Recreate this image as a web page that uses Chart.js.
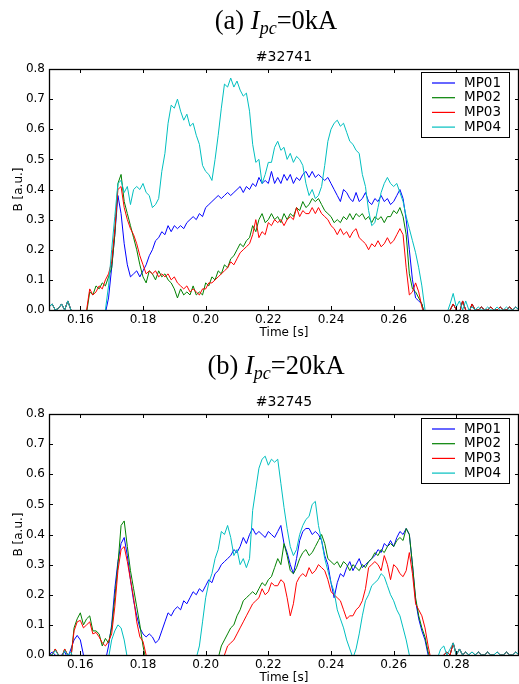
<!DOCTYPE html>
<html>
<head>
<meta charset="utf-8">
<script src="https://cdn.jsdelivr.net/npm/chart.js@4.4.0/dist/chart.umd.min.js"></script>
<style>
  body { margin: 0; width: 519px; height: 684px; overflow: hidden; background: #fff; position: relative; }
  canvas { position: absolute; left: 0; }
  .cap { position: absolute; left: 0; width: 552px; text-align: center; color: #000;
         font-family: "Liberation Serif", "DejaVu Serif", serif; font-size: 26.5px; line-height: 26px; }
  .cap sub { font-size: 18px; line-height: 0; vertical-align: -5px; }
</style>
</head>
<body>
<canvas id="chartA" width="519" height="345" style="top:0"></canvas>
<canvas id="chartB" width="519" height="345" style="top:345px"></canvas>
<div class="cap" style="top:7px">(a) <i>I<sub>pc</sub></i>=0kA</div>
<div class="cap" style="top:352px">(b) <i>I<sub>pc</sub></i>=20kA</div>
<script>
// sampling of the probe signals
const t0 = 0.150;
const dt = 0.001;

const xTickValues = [0.16, 0.18, 0.20, 0.22, 0.24, 0.26, 0.28];
const yTickValues = [0.0, 0.1, 0.2, 0.3, 0.4, 0.5, 0.6, 0.7, 0.8];

const probeNames = ['MP01', 'MP02', 'MP03', 'MP04'];
const probeColors = ['#0000ff', '#008000', '#ff0000', '#00bfbf'];

// shot #32741, Ipc = 0 kA
const s32741_mp01 = [
  0.01, 0.02, 0.00, 0.005, 0.02, 0.00, 0.03, 0.00, -0.02, -0.02,
  -0.02, -0.02, -0.02, -0.02, -0.02, -0.02, -0.02, -0.02, -0.01, 0.04,
  0.14, 0.25, 0.38, 0.32, 0.22, 0.15, 0.11, 0.12, 0.13, 0.11,
  0.13, 0.15, 0.18, 0.20, 0.23, 0.24, 0.26, 0.25, 0.28, 0.26,
  0.28, 0.27, 0.28, 0.27, 0.29, 0.30, 0.31, 0.30, 0.32, 0.31,
  0.34, 0.35, 0.36, 0.37, 0.38, 0.37, 0.38, 0.39, 0.38, 0.39,
  0.40, 0.41, 0.39, 0.41, 0.40, 0.42, 0.41, 0.44, 0.42, 0.43,
  0.42, 0.46, 0.42, 0.44, 0.42, 0.45, 0.43, 0.45, 0.42, 0.44,
  0.43, 0.45, 0.46, 0.44, 0.46, 0.44, 0.45, 0.44, 0.43, 0.44,
  0.42, 0.40, 0.38, 0.36, 0.40, 0.39, 0.37, 0.36, 0.39, 0.36,
  0.37, 0.39, 0.36, 0.35, 0.37, 0.36, 0.38, 0.36, 0.37, 0.35,
  0.36, 0.38, 0.40, 0.37, 0.30, 0.20, 0.10, 0.04, 0.03, 0.02,
  -0.02, -0.03, -0.03, -0.02, -0.02, -0.02, -0.02, -0.01, 0.00, 0.02,
  0.00, -0.01, 0.03, 0.00, -0.01, 0.02, 0.00, 0.00, 0.01, 0.00,
  0.00, 0.01, 0.00, 0.00, 0.01, 0.00, 0.00, 0.01, 0.00, 0.01,
  0.00
];
const s32741_mp02 = [
  0.01, 0.02, 0.00, 0.005, 0.02, 0.00, 0.03, 0.00, -0.02, -0.02,
  -0.02, -0.02, -0.01, 0.06, 0.05, 0.08, 0.07, 0.09, 0.08, 0.11,
  0.14, 0.25, 0.42, 0.45, 0.36, 0.32, 0.28, 0.24, 0.20, 0.15,
  0.11, 0.09, 0.13, 0.12, 0.10, 0.13, 0.11, 0.12, 0.10, 0.09,
  0.07, 0.04, 0.07, 0.05, 0.06, 0.05, 0.08, 0.05, 0.06, 0.05,
  0.09, 0.08, 0.11, 0.10, 0.13, 0.12, 0.15, 0.14, 0.17, 0.18,
  0.20, 0.22, 0.21, 0.23, 0.24, 0.28, 0.26, 0.30, 0.32, 0.29,
  0.30, 0.32, 0.30, 0.31, 0.29, 0.32, 0.30, 0.32, 0.31, 0.34,
  0.33, 0.36, 0.34, 0.35, 0.37, 0.36, 0.37, 0.35, 0.33, 0.32,
  0.31, 0.29, 0.30, 0.29, 0.31, 0.30, 0.32, 0.30, 0.32, 0.31,
  0.32, 0.30, 0.31, 0.29, 0.31, 0.30, 0.31, 0.29, 0.31, 0.31,
  0.33, 0.32, 0.34, 0.31, 0.25, 0.12, 0.07, 0.06, 0.04, 0.02,
  -0.02, -0.03, -0.03, -0.02, -0.02, -0.02, -0.02, -0.01, 0.00, 0.02,
  0.00, -0.01, 0.03, 0.00, -0.01, 0.02, 0.00, 0.00, 0.01, 0.00,
  0.00, 0.01, 0.00, 0.00, 0.01, 0.00, 0.00, 0.01, 0.00, 0.01,
  0.00
];
const s32741_mp03 = [
  0.01, 0.02, 0.00, 0.005, 0.02, 0.00, 0.03, 0.00, -0.02, -0.02,
  -0.02, -0.02, 0.00, 0.07, 0.05, 0.06, 0.08, 0.07, 0.10, 0.12,
  0.16, 0.27, 0.40, 0.41, 0.34, 0.30, 0.27, 0.25, 0.22, 0.18,
  0.15, 0.12, 0.13, 0.12, 0.13, 0.11, 0.12, 0.11, 0.12, 0.10,
  0.11, 0.09, 0.08, 0.07, 0.08, 0.06, 0.07, 0.06, 0.05, 0.07,
  0.07, 0.09, 0.09, 0.10, 0.11, 0.12, 0.13, 0.14, 0.16, 0.15,
  0.17, 0.19, 0.20, 0.21, 0.22, 0.25, 0.30, 0.24, 0.26, 0.25,
  0.29, 0.28, 0.30, 0.29, 0.30, 0.28, 0.30, 0.31, 0.30, 0.34,
  0.31, 0.33, 0.32, 0.32, 0.34, 0.32, 0.34, 0.32, 0.31, 0.30,
  0.28, 0.27, 0.25, 0.27, 0.25, 0.26, 0.24, 0.26, 0.27, 0.24,
  0.23, 0.22, 0.20, 0.22, 0.21, 0.23, 0.21, 0.22, 0.24, 0.22,
  0.23, 0.25, 0.27, 0.25, 0.14, 0.05, 0.06, 0.09, 0.06, 0.01,
  -0.02, -0.03, -0.03, -0.02, -0.02, -0.02, -0.02, -0.01, 0.00, 0.02,
  0.00, -0.01, 0.03, 0.00, -0.01, 0.02, 0.00, 0.00, 0.01, 0.00,
  0.00, 0.01, 0.00, 0.00, 0.01, 0.00, 0.00, 0.01, 0.00, 0.01,
  0.00
];
const s32741_mp04 = [
  0.01, 0.02, 0.00, 0.005, 0.02, 0.00, 0.03, 0.00, -0.02, -0.02,
  -0.02, -0.02, -0.02, -0.02, -0.02, -0.02, -0.02, -0.02, 0.00, 0.08,
  0.20, 0.31, 0.42, 0.43, 0.39, 0.41, 0.35, 0.40, 0.41, 0.40,
  0.42, 0.39, 0.38, 0.34, 0.35, 0.37, 0.46, 0.52, 0.62, 0.68,
  0.67, 0.70, 0.66, 0.63, 0.65, 0.61, 0.62, 0.58, 0.55, 0.48,
  0.46, 0.45, 0.43, 0.50, 0.58, 0.67, 0.75, 0.74, 0.77, 0.74,
  0.76, 0.73, 0.71, 0.72, 0.66, 0.55, 0.49, 0.50, 0.42, 0.45,
  0.49, 0.49, 0.54, 0.56, 0.53, 0.54, 0.50, 0.52, 0.49, 0.51,
  0.50, 0.48, 0.42, 0.38, 0.40, 0.37, 0.38, 0.41, 0.48, 0.56,
  0.60, 0.62, 0.63, 0.61, 0.62, 0.59, 0.56, 0.55, 0.53, 0.52,
  0.45, 0.41, 0.33, 0.28, 0.29, 0.34, 0.39, 0.42, 0.44, 0.42,
  0.41, 0.42, 0.39, 0.36, 0.31, 0.27, 0.23, 0.19, 0.14, 0.08,
  0.00, -0.02, -0.02, -0.02, -0.02, -0.02, -0.02, -0.01, 0.02, 0.055,
  0.01, 0.03, 0.00, 0.03, 0.00, 0.01, 0.00, 0.01, 0.00, 0.00,
  0.01, 0.00, 0.00, 0.01, 0.00, 0.00, 0.01, 0.00, 0.00, 0.01,
  0.00
];

// shot #32745, Ipc = 20 kA
const s32745_mp01 = [
  0.00, 0.01, 0.00, -0.01, 0.00, 0.01, -0.01, 0.02, 0.05, 0.065,
  0.05, 0.00, -0.02, -0.02, -0.02, -0.02, -0.02, -0.02, -0.02, 0.03,
  0.10, 0.22, 0.31, 0.37, 0.39, 0.33, 0.25, 0.18, 0.13, 0.09,
  0.07, 0.06, 0.07, 0.06, 0.04, 0.05, 0.08, 0.11, 0.14, 0.13,
  0.15, 0.16, 0.15, 0.18, 0.17, 0.19, 0.21, 0.20, 0.22, 0.21,
  0.23, 0.25, 0.24, 0.27, 0.28, 0.30, 0.31, 0.32, 0.33, 0.35,
  0.34, 0.36, 0.39, 0.37, 0.40, 0.42, 0.40, 0.41, 0.40, 0.39,
  0.41, 0.40, 0.39, 0.41, 0.43, 0.37, 0.34, 0.30, 0.27, 0.32,
  0.38, 0.41, 0.42, 0.42, 0.40, 0.41, 0.40, 0.38, 0.33, 0.30,
  0.24, 0.19, 0.24, 0.27, 0.26, 0.29, 0.31, 0.28, 0.30, 0.32,
  0.29, 0.30, 0.31, 0.32, 0.33, 0.35, 0.34, 0.37, 0.36, 0.38,
  0.36, 0.39, 0.41, 0.40, 0.42, 0.40, 0.30, 0.18, 0.12, 0.08,
  0.05, 0.00, -0.02, -0.02, -0.02, -0.01, 0.00, 0.01, 0.00, 0.04,
  0.00, 0.02, 0.00, 0.01, 0.00, 0.01, 0.00, 0.01, 0.00, 0.00,
  0.01, 0.00, 0.00, 0.01, 0.00, 0.00, 0.01, 0.00, 0.00, 0.01,
  0.00
];
const s32745_mp02 = [
  0.00, 0.00, 0.02, 0.00, -0.01, 0.02, 0.00, -0.01, 0.09, 0.12,
  0.14, 0.10, 0.12, 0.13, 0.08, 0.08, 0.07, 0.03, 0.055, 0.04,
  0.09, 0.19, 0.30, 0.43, 0.445, 0.36, 0.28, 0.22, 0.16, 0.10,
  0.03, -0.02, -0.02, -0.02, -0.02, -0.02, -0.02, -0.02, -0.02, -0.02,
  -0.02, -0.02, -0.02, -0.02, -0.02, -0.02, -0.02, -0.02, -0.02, -0.02,
  -0.02, -0.02, -0.02, -0.02, -0.01, 0.03, 0.05, 0.07, 0.09, 0.10,
  0.13, 0.15, 0.18, 0.19, 0.20, 0.21, 0.20, 0.22, 0.24, 0.23,
  0.25, 0.26, 0.29, 0.32, 0.30, 0.37, 0.33, 0.28, 0.27, 0.29,
  0.32, 0.34, 0.35, 0.33, 0.34, 0.36, 0.38, 0.40, 0.37, 0.32,
  0.31, 0.30, 0.31, 0.29, 0.31, 0.30, 0.28, 0.30, 0.29, 0.28,
  0.30, 0.29, 0.31, 0.32, 0.34, 0.33, 0.35, 0.34, 0.36, 0.37,
  0.36, 0.38, 0.39, 0.38, 0.42, 0.40, 0.30, 0.19, 0.13, 0.09,
  0.06, 0.01, -0.02, -0.02, -0.02, -0.01, 0.00, 0.01, 0.00, 0.04,
  0.00, 0.02, 0.00, 0.01, 0.00, 0.01, 0.00, 0.01, 0.00, 0.00,
  0.01, 0.00, 0.00, 0.01, 0.00, 0.00, 0.01, 0.00, 0.00, 0.01,
  0.00
];
const s32745_mp03 = [
  0.00, 0.00, 0.02, 0.00, -0.01, 0.02, 0.00, -0.01, 0.08, 0.11,
  0.115, 0.09, 0.10, 0.11, 0.07, 0.075, 0.06, 0.04, 0.03, 0.045,
  0.07, 0.16, 0.28, 0.35, 0.36, 0.31, 0.25, 0.19, 0.11, 0.06,
  0.045, 0.00, -0.02, -0.02, -0.02, -0.02, -0.02, -0.02, -0.02, -0.02,
  -0.02, -0.02, -0.02, -0.02, -0.02, -0.02, -0.02, -0.02, -0.02, -0.02,
  -0.02, -0.02, -0.02, -0.02, -0.02, -0.02, 0.00, 0.03, 0.04, 0.05,
  0.07, 0.09, 0.11, 0.13, 0.15, 0.17, 0.18, 0.19, 0.22, 0.20,
  0.21, 0.24, 0.23, 0.23, 0.25, 0.24, 0.19, 0.13, 0.17, 0.24,
  0.26, 0.27, 0.26, 0.29, 0.27, 0.28, 0.30, 0.29, 0.28, 0.25,
  0.21, 0.20, 0.19, 0.18, 0.15, 0.12, 0.13, 0.13, 0.15, 0.16,
  0.18, 0.22, 0.29, 0.30, 0.31, 0.30, 0.28, 0.33, 0.30, 0.25,
  0.30, 0.29, 0.27, 0.26, 0.28, 0.34, 0.27, 0.17, 0.15, 0.13,
  0.09, 0.03, -0.02, -0.02, -0.02, -0.01, 0.00, 0.01, 0.00, 0.04,
  0.00, 0.02, 0.00, 0.01, 0.00, 0.01, 0.00, 0.01, 0.00, 0.00,
  0.01, 0.00, 0.00, 0.01, 0.00, 0.00, 0.01, 0.00, 0.00, 0.01,
  0.00
];
const s32745_mp04 = [
  0.00, 0.00, 0.015, 0.00, -0.01, 0.015, 0.00, 0.01, -0.02, -0.02,
  -0.02, -0.02, -0.02, -0.02, -0.02, -0.02, -0.02, -0.02, -0.02, -0.01,
  0.05, 0.08, 0.10, 0.09, 0.05, -0.01, -0.02, -0.02, -0.02, -0.02,
  -0.02, -0.02, -0.02, -0.02, -0.02, -0.02, -0.02, -0.02, -0.02, -0.02,
  -0.02, -0.02, -0.02, -0.02, -0.02, -0.02, -0.02, -0.01, 0.03, 0.11,
  0.19, 0.24, 0.27, 0.32, 0.35, 0.41, 0.40, 0.43, 0.39, 0.33,
  0.35, 0.30, 0.32, 0.29, 0.32, 0.48, 0.55, 0.62, 0.65, 0.66,
  0.63, 0.65, 0.64, 0.65, 0.57, 0.49, 0.42, 0.36, 0.33, 0.35,
  0.40, 0.43, 0.45, 0.46, 0.50, 0.51, 0.43, 0.38, 0.32, 0.28,
  0.24, 0.21, 0.15, 0.12, 0.09, 0.05, 0.02, -0.01, 0.02, 0.07,
  0.13, 0.18, 0.20, 0.23, 0.24, 0.25, 0.27, 0.26, 0.23, 0.20,
  0.18, 0.15, 0.13, 0.09, 0.05, 0.00, -0.02, -0.02, -0.02, -0.02,
  -0.02, -0.02, -0.02, -0.02, -0.01, 0.02, 0.03, 0.00, 0.02, 0.04,
  0.00, 0.02, 0.00, 0.01, 0.00, 0.01, 0.00, 0.01, 0.00, 0.00,
  0.01, 0.00, 0.00, 0.01, 0.00, 0.00, 0.01, 0.00, 0.00, 0.01,
  0.00
];

const times = s32741_mp01.map((_, i) => +(t0 + i * dt).toFixed(3));

Chart.defaults.color = '#000';
Chart.defaults.font.family = '"DejaVu Sans", sans-serif';

// matplotlib-like box, inward ticks, title and legend inside the axes
const framePlugin = {
  id: 'frame',
  afterDraw(chart, args, opts) {
    const { ctx, chartArea: a, scales: { x, y } } = chart;
    ctx.save();
    ctx.strokeStyle = '#000';
    ctx.lineWidth = 1;
    ctx.beginPath();
    for (const t of x.ticks) {
      const px = Math.round(x.getPixelForValue(t.value)) + 0.5;
      ctx.moveTo(px, a.top); ctx.lineTo(px, a.top + 4);
      ctx.moveTo(px, a.bottom); ctx.lineTo(px, a.bottom - 4);
    }
    for (const t of y.ticks) {
      const py = Math.round(y.getPixelForValue(t.value)) + 0.5;
      ctx.moveTo(a.left, py); ctx.lineTo(a.left + 4, py);
      ctx.moveTo(a.right, py); ctx.lineTo(a.right - 4, py);
    }
    ctx.stroke();
    ctx.lineWidth = 1.3;
    ctx.strokeRect(a.left + 0.5, a.top + 0.5, a.right - a.left - 1, a.bottom - a.top);

    ctx.fillStyle = '#000';
    ctx.font = '14px "DejaVu Sans"';
    ctx.textAlign = 'center';
    ctx.textBaseline = 'middle';
    ctx.fillText(opts.text, (a.left + a.right) / 2, a.top - 12);

    const bw = 88, bh = 65;
    const bx = a.right - 10 - bw, by = a.top + opts.legendTop;
    ctx.fillStyle = '#fff';
    ctx.fillRect(bx, by, bw, bh);
    ctx.lineWidth = 1;
    ctx.strokeStyle = '#000';
    ctx.strokeRect(bx + 0.5, by + 0.5, bw, bh);
    ctx.font = '13.5px "DejaVu Sans"';
    ctx.textAlign = 'left';
    chart.data.datasets.forEach((ds, i) => {
      const ly = by + 11 + i * 14.7;
      ctx.strokeStyle = ds.borderColor;
      ctx.lineWidth = 1.2;
      ctx.beginPath();
      ctx.moveTo(bx + 11, ly);
      ctx.lineTo(bx + 34, ly);
      ctx.stroke();
      ctx.fillStyle = '#000';
      ctx.fillText(ds.label, bx + 43, ly);
    });
    ctx.restore();
  }
};

function makeChart(id, shot, legendTop, series) {
  return new Chart(document.getElementById(id), {
    type: 'line',
    data: {
      labels: times,
      datasets: series.map((d, i) => ({
        label: probeNames[i],
        data: d,
        borderColor: probeColors[i],
        borderWidth: 1,
        pointRadius: 0,
        tension: 0,
        fill: false,
        order: series.length - i
      }))
    },
    options: {
      responsive: false,
      animation: false,
      layout: { padding: { top: 69, right: 0, bottom: 0, left: 0 } },
      plugins: {
        legend: { display: false },
        tooltip: { enabled: false },
        frame: { text: shot, legendTop: legendTop }
      },
      scales: {
        x: {
          type: 'linear',
          min: 0.15,
          max: 0.30,
          grid: { display: false, drawTicks: false },
          border: { display: false },
          afterBuildTicks: s => { s.ticks = xTickValues.map(v => ({ value: v })); },
          afterFit: s => { s.height = 35; },
          ticks: { autoSkip: false, maxRotation: 0, padding: 3, font: { size: 12 },
                   callback: v => v.toFixed(2) },
          title: { display: true, text: 'Time [s]', font: { size: 12 }, padding: { top: 0, bottom: 5 } }
        },
        y: {
          min: 0,
          max: 0.8,
          grid: { display: false, drawTicks: false },
          border: { display: false },
          afterBuildTicks: s => { s.ticks = yTickValues.map(v => ({ value: v })); },
          afterFit: s => { s.width = 49; },
          ticks: { padding: 4, font: { size: 12 }, callback: v => v.toFixed(1) },
          title: { display: true, text: 'B [a.u.]', font: { size: 12 }, padding: { top: 12, bottom: 0 } }
        }
      }
    },
    plugins: [framePlugin]
  });
}

makeChart('chartA', '#32741', 3, [s32741_mp01, s32741_mp02, s32741_mp03, s32741_mp04]);
makeChart('chartB', '#32745', 4, [s32745_mp01, s32745_mp02, s32745_mp03, s32745_mp04]);
</script>
</body>
</html>
